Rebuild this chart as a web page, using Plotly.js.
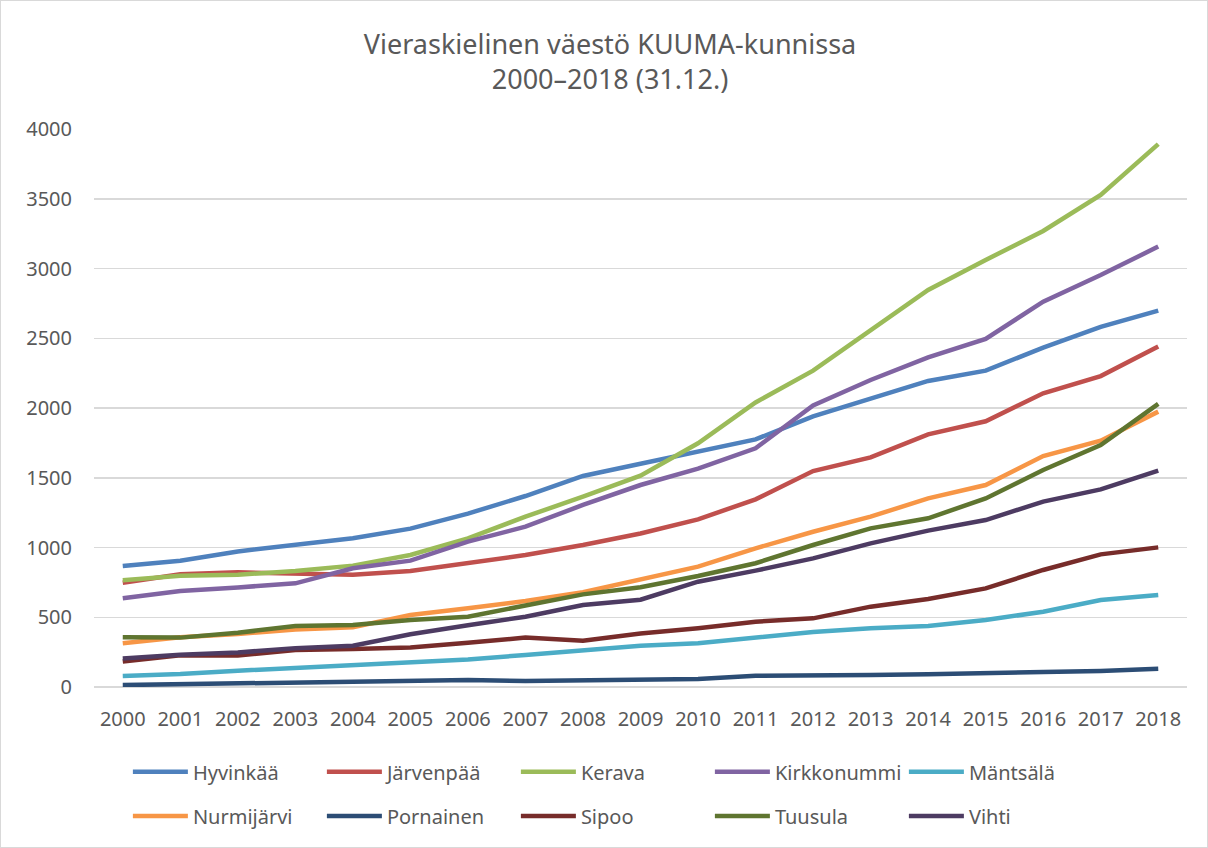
<!DOCTYPE html>
<html><head><meta charset="utf-8">
<script src="https://cdn.plot.ly/plotly-3.0.1.min.js"></script>
<style>
html,body{margin:0;padding:0;background:#fff;}
#chart{width:1208px;height:848px;box-sizing:border-box;border:1px solid #d9d9d9;}
</style></head>
<body><div id="chart"></div>
<script>
const years = ["2000","2001","2002","2003","2004","2005","2006","2007","2008","2009","2010","2011","2012","2013","2014","2015","2016","2017","2018"];
const hyvinkaa    = [868, 905, 972, 1022, 1066, 1135, 1243, 1369, 1513, 1600, 1688, 1775, 1940, 2070, 2194, 2268, 2433, 2582, 2698];
const jarvenpaa   = [748, 808, 822, 815, 805, 832, 887, 946, 1018, 1100, 1202, 1345, 1548, 1646, 1811, 1905, 2105, 2229, 2440];
const kerava      = [765, 798, 805, 832, 870, 946, 1066, 1221, 1364, 1515, 1747, 2040, 2268, 2557, 2846, 3061, 3269, 3527, 3892];
const kirkkonummi = [636, 688, 714, 743, 851, 906, 1042, 1149, 1305, 1448, 1565, 1711, 2019, 2201, 2363, 2495, 2762, 2953, 3157];
const mantsala    = [79, 93, 117, 139, 158, 182, 198, 229, 260, 295, 313, 356, 394, 421, 437, 480, 540, 624, 659];
const nurmijarvi  = [313, 356, 380, 413, 428, 516, 564, 616, 679, 775, 863, 994, 1113, 1221, 1352, 1448, 1656, 1766, 1974];
const pornainen   = [14, 19, 31, 31, 38, 43, 50, 43, 48, 52, 57, 81, 81, 86, 91, 103, 108, 115, 131];
const sipoo       = [182, 227, 225, 265, 272, 284, 318, 354, 332, 383, 421, 468, 492, 576, 631, 707, 839, 951, 1001];
const tuusula     = [356, 354, 389, 437, 444, 480, 504, 581, 664, 715, 796, 887, 1018, 1137, 1209, 1352, 1556, 1735, 2029];
const vihti       = [205, 232, 248, 277, 296, 378, 442, 504, 588, 626, 755, 834, 922, 1030, 1121, 1197, 1329, 1417, 1551];

const names = ["Hyvinkää","Järvenpää","Kerava","Kirkkonummi","Mäntsälä","Nurmijärvi","Pornainen","Sipoo","Tuusula","Vihti"];
const series = [hyvinkaa, jarvenpaa, kerava, kirkkonummi, mantsala, nurmijarvi, pornainen, sipoo, tuusula, vihti];
const colors = ["#4F81BD","#C0504D","#9BBB59","#8064A2","#4BACC6","#F79646","#2C4D75","#772C2A","#5F7530","#4D3B62"];

const FONT = "Noto Sans, sans-serif";
const traces = series.map((s, i) => ({
  type: "scatter", mode: "lines", name: names[i], x: years, y: s,
  line: {color: colors[i], width: 4.5},
  legend: i < 5 ? "legend" : "legend2"
}));

const legendCommon = {
  orientation: "h", xanchor: "left", yanchor: "middle",
  entrywidth: 124, entrywidthmode: "pixels",
  font: {family: FONT, size: 20, color: "#595959"},
  bgcolor: "rgba(0,0,0,0)", itemwidth: 55, tracegroupgap: 0
};

const layout = {
  width: 1206, height: 846,
  margin: {l: 93, r: 20, t: 128, b: 160},
  paper_bgcolor: "#fff", plot_bgcolor: "#fff",
  font: {family: FONT, color: "#595959"},
  title: {
    text: "Vieraskielinen väestö KUUMA-kunnissa<br>2000–2018 (31.12.)",
    font: {family: FONT, size: 27, color: "#595959"},
    x: 0.505, xanchor: "center", y: 0.937, yanchor: "middle"
  },
  xaxis: {
    type: "category", range: [-0.5, 18.5],
    showgrid: false, zeroline: false, showline: false, ticks: "",
    tickfont: {family: FONT, size: 20, color: "#595959"},
    ticklabelstandoff: 18, fixedrange: true
  },
  yaxis: {
    range: [0, 4000], dtick: 500, showgrid: true, gridcolor: "#d9d9d9", gridwidth: 1.5,
    zeroline: true, zerolinecolor: "#d9d9d9", zerolinewidth: 1.5,
    showline: false, ticks: "",
    tickfont: {family: FONT, size: 20, color: "#595959"},
    ticklabelstandoff: 21, fixedrange: true
  },
  legend: Object.assign({}, legendCommon, {x: 0.031, y: -0.152}),
  legend2: Object.assign({}, legendCommon, {x: 0.031, y: -0.231}),
  showlegend: true
};

Plotly.newPlot("chart", traces, layout, {displayModeBar: false, staticPlot: true});
</script>
</body></html>
